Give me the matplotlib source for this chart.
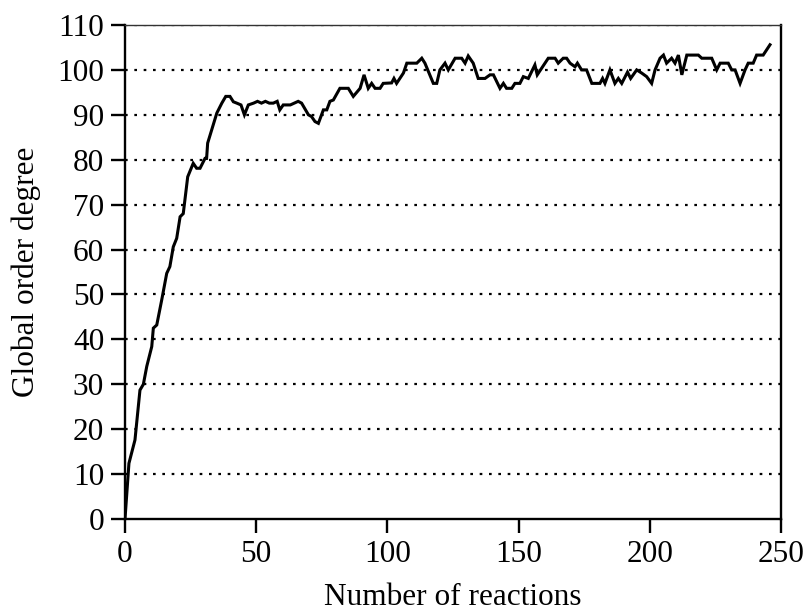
import matplotlib
matplotlib.use("Agg")
import matplotlib.pyplot as plt

reactions = [0, 1.5, 3.8, 5.7, 7, 8.3, 10.2, 10.8, 12.1, 14, 15.9, 17.1, 18.4, 19.7, 21, 22.2,
             23.9, 26, 27.3, 28.6, 30.5, 31.1, 31.5, 33, 35, 36.9, 38.4, 40, 41.3, 42.6, 44.2,
             45.5, 47, 49, 50.5, 52, 53.5, 55, 56.5, 58, 59, 60.3, 63, 66, 67.3, 69.9, 71.1,
             72.4, 73.7, 75.6, 76.9, 78.1, 79.4, 81.9, 85.1, 87, 89.6, 91.1, 92.7, 94, 95.3,
             97.2, 98.4, 101.6, 102.5, 103.5, 106.1, 107.4, 111.2, 113.1, 114.3, 117.5, 118.8,
             120, 121.95, 123.2, 125.8, 128.3, 129.6, 130.8, 132.7, 134.6, 137.2, 139.1, 140.4,
             142.9, 144.2, 145.4, 147.4, 148.6, 150.5, 151.8, 153.7, 156.2, 157.1, 158.8, 161.3,
             163.9, 165.1, 167, 168.3, 169.6, 171.5, 172.4, 174, 175.9, 177.9, 181, 182, 182.9,
             184.8, 186.7, 188, 189.3, 191.5, 192.7, 195, 196.9, 198.8, 200.7, 202, 203.9, 205.2,
             206.4, 208.3, 209.6, 210.9, 212.2, 214.1, 218.5, 219.8, 223.6, 225.5, 226.8, 229.9,
             231.2, 232.5, 234.4, 236.3, 237.5, 239.4, 240.7, 243.2, 245.8]
order_degree = [0, 12.4, 17.6, 28.7, 30, 34, 38.4, 42.5, 43.2, 48.8, 54.7, 56.2, 60.6, 62.5, 67.3, 68,
                76.2, 79.2, 78.1, 78.1, 80.3, 80.3, 83.7, 86.6, 90.4, 92.6, 94.1, 94.1, 92.9, 92.6, 92.2,
                90, 92.2, 92.6, 93, 92.6, 93, 92.6, 92.6, 93, 91.1, 92.2, 92.2, 93, 92.6, 90, 89.6,
                88.5, 88.1, 91.1, 91.1, 93, 93.3, 95.9, 95.9, 94.1, 95.9, 98.9, 95.9, 97, 95.9,
                95.9, 97, 97.1, 98.1, 97, 99.3, 101.5, 101.5, 102.6, 101.5, 97, 97,
                100, 101.5, 100, 102.6, 102.6, 101.5, 103.1, 101.5, 98.1, 98.1, 98.9, 98.9,
                95.9, 97, 95.9, 95.9, 97, 97, 98.5, 98.1, 101.1, 98.9, 100.4, 102.6,
                102.6, 101.5, 102.6, 102.6, 101.5, 100.7, 101.5, 100, 100, 97, 97, 98.1, 97,
                100, 97, 98.1, 97, 99.5, 98.1, 100, 99.3, 98.5, 97, 100, 102.6, 103.3,
                101.5, 102.6, 101.5, 103.3, 98.9, 103.3, 103.3, 102.6, 102.6, 100, 101.5, 101.5,
                100, 100, 97, 100, 101.5, 101.5, 103.3, 103.3, 105.6]

x_ticks = [0, 50, 100, 150, 200, 250]
y_ticks = list(range(0, 111, 10))

plt.rcParams['font.family'] = ['Liberation Serif', 'DejaVu Serif']

fig = plt.figure(figsize=(8.08, 6.14), dpi=100)
ax = fig.add_axes([0.1547, 0.1547, 0.9666 - 0.1547, 0.9593 - 0.1547])

for yv in y_ticks[1:]:
    ax.axhline(yv, color='black', lw=1.6, linestyle=(0, (1.2, 3.0)), zorder=1)

ax.plot(reactions, order_degree, color='black', lw=2.2, zorder=3, solid_joinstyle='miter')

ax.set_xlim(0, 250)
ax.set_ylim(0, 110)
ax.set_xticks(x_ticks)
ax.set_yticks(y_ticks)
ax.tick_params(direction='out', length=10, width=1.7, labelsize=22.5, pad=5, colors='black')
for side in ['left', 'bottom', 'right']:
    ax.spines[side].set_linewidth(1.7)
ax.spines['top'].set_linewidth(1.0)
ax.spines['top'].set_color('#333333')

ax.set_xlabel('Number of reactions', fontsize=22.5, labelpad=10.5)
ax.set_ylabel('Global order degree', fontsize=22.5, labelpad=12)

fig.savefig('out.png', dpi=100)
